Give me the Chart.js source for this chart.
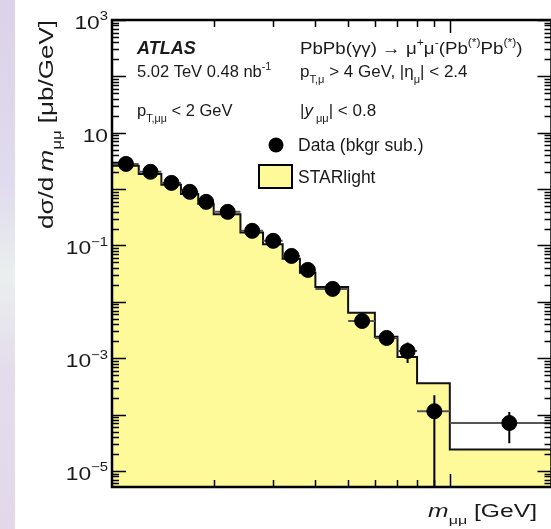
<!DOCTYPE html>
<html lang="en">
<head>
<meta charset="UTF-8">
<title>ATLAS PbPb dimuon mass</title>
<script src="https://cdn.jsdelivr.net/npm/chart.js"></script>
<style>
  html, body { margin: 0; padding: 0; background: #fff; overflow: hidden; }
  #strip { position: absolute; left: 0; top: 0; width: 15px; height: 529px;
    background: linear-gradient(to bottom, #dcd2e9 0%, #e0dbee 35%, #eaefee 52%, #e4dcec 70%, #e2d8ea 100%); }
  #wrap { position: absolute; left: 0; top: 0; }
</style>
</head>
<body>
<div id="strip"></div>
<div id="wrap"><canvas id="grafico" width="560" height="529"></canvas></div>
<script>
// m_mumu bin edges [GeV]
const binEdges = [10, 12, 14, 16, 18, 20, 24, 28, 32, 36, 40, 50, 60, 70, 80, 100, 200];
// STARlight prediction, one value per bin [mub/GeV]
const starlight = [2.6, 1.85, 1.2, 0.82, 0.55, 0.36, 0.17, 0.105, 0.058, 0.033, 0.0184, 0.0064, 0.0024, 0.00105, 0.00036, 0.000024];
// data (bkgr sub.)
const dataMass = [11, 13, 15, 17, 19, 22, 26, 30, 34, 38, 45, 55, 65, 75, 90, 150];
const dataXsec = [2.8, 2.03, 1.29, 0.895, 0.594, 0.395, 0.182, 0.121, 0.0653, 0.0369, 0.0170, 0.00458, 0.00229, 0.00134, 0.000115, 0.000071];
const dataLow  = [2.7, 1.96, 1.24, 0.86, 0.57, 0.38, 0.174, 0.115, 0.062, 0.0345, 0.0158, 0.0040, 0.0018, 0.00082, 1e-7, 0.000031];
const dataHigh = [2.9, 2.1, 1.34, 0.93, 0.62, 0.41, 0.19, 0.127, 0.069, 0.039, 0.0182, 0.0052, 0.0028, 0.0019, 0.00022, 0.000111];
// labelled y decades (10^n)
const yLabelExps = [3, 1, -1, -3, -5];

const FONT = '"Liberation Sans", Arial, sans-serif';
const INK = '#1a1a1a';

// draws text made of pieces: '' normal, 'i' italic, 'bi' bold italic, '^' superscript, '_' subscript
// sx stretches the text along its direction
function rich(ctx, parts, x, y, size, align, sx) {
  sx = sx || 1;
  const font = (k, s) => (k === 'i' ? 'italic ' : k === 'bi' ? 'italic bold ' : '') + s + 'px ' + FONT;
  const items = parts.map(([t, k]) => {
    const s = (k === '^' || k === '_') ? size * 0.65 : size;
    ctx.font = font(k, s);
    return { t, k, s, w: ctx.measureText(t).width };
  });
  const total = items.reduce((a, b) => a + b.w, 0) * sx;
  let start = align === 'right' ? x - total : align === 'center' ? x - total / 2 : x;
  ctx.save();
  ctx.translate(start, y);
  ctx.scale(sx, 1);
  ctx.textAlign = 'left';
  ctx.textBaseline = 'alphabetic';
  let cx = 0;
  items.forEach(it => {
    ctx.font = font(it.k, it.s);
    const dy = it.k === '^' ? -size * 0.45 : it.k === '_' ? size * 0.38 : 0;
    ctx.fillText(it.t, cx, dy);
    cx += it.w;
  });
  ctx.restore();
}

const atlasPlugin = {
  id: 'atlas',
  beforeDatasetDraw(chart, args) {
    if (args.index !== 0) return;
    const { ctx, chartArea: a, scales: { x, y } } = chart;
    ctx.save();
    ctx.beginPath();
    ctx.rect(a.left, a.top, a.right - a.left, a.bottom - a.top);
    ctx.clip();
    ctx.lineWidth = 2;
    dataMass.forEach((m, i) => {
      const py = y.getPixelForValue(dataXsec[i]);
      ctx.strokeStyle = '#555';
      ctx.beginPath();
      ctx.moveTo(x.getPixelForValue(binEdges[i]), py);
      ctx.lineTo(x.getPixelForValue(binEdges[i + 1]), py);
      ctx.stroke();
      const px = x.getPixelForValue(m);
      ctx.strokeStyle = '#000';
      ctx.beginPath();
      ctx.moveTo(px, y.getPixelForValue(dataLow[i]));
      ctx.lineTo(px, y.getPixelForValue(dataHigh[i]));
      ctx.stroke();
    });
    ctx.restore();
  },
  afterDraw(chart) {
    const { ctx, chartArea: a, scales: { x, y } } = chart;
    ctx.save();
    ctx.strokeStyle = '#000';
    ctx.lineWidth = 2.5;
    ctx.strokeRect(a.left, a.top, a.right - a.left, a.bottom - a.top);

    // y ticks, both sides, pointing inward
    ctx.lineWidth = 1.5;
    for (let e = -6; e <= 3; e++) {
      for (let k = 1; k <= 9; k++) {
        const v = k * Math.pow(10, e);
        if (v < y.min || v > y.max) continue;
        const py = Math.round(y.getPixelForValue(v)) + 0.5;
        const len = k === 1 ? 14 : 7;
        ctx.beginPath();
        ctx.moveTo(a.left, py); ctx.lineTo(a.left + len, py);
        ctx.moveTo(a.right, py); ctx.lineTo(a.right - len, py);
        ctx.stroke();
      }
    }
    // x ticks, top and bottom
    for (let e = 1; e <= 2; e++) {
      for (let k = 1; k <= 9; k++) {
        const v = k * Math.pow(10, e);
        if (v <= x.min || v >= x.max) continue;
        const px = Math.round(x.getPixelForValue(v)) + 0.5;
        const len = k === 1 ? 13 : 7;
        ctx.beginPath();
        ctx.moveTo(px, a.bottom); ctx.lineTo(px, a.bottom - len);
        ctx.moveTo(px, a.top); ctx.lineTo(px, a.top + len);
        ctx.stroke();
      }
    }

    ctx.fillStyle = INK;
    // y tick labels
    yLabelExps.forEach(n => {
      const py = y.getPixelForValue(Math.pow(10, n));
      const parts = n === 1 ? [['10', '']] : [['10', ''], [n < 0 ? '\u2212' + (-n) : String(n), '^']];
      rich(ctx, parts, 108, py + 9, 19, 'right', 1.2);
    });

    // axis titles
    rich(ctx, [['m', 'i'], ['\u03bc\u03bc', '_'], [' [GeV]', '']], 537, 517, 18, 'right', 1.37);
    ctx.save();
    ctx.translate(53, 20);
    ctx.rotate(-Math.PI / 2);
    rich(ctx, [['d\u03c3/d\u2009', ''], ['m', 'i'], ['\u03bc\u03bc', '_'], [' [\u03bcb/GeV]', '']], 0, 0, 20, 'right', 1.3);
    ctx.restore();

    // labels
    rich(ctx, [['ATLAS', 'bi']], 137, 54, 18);
    rich(ctx, [['5.02 TeV 0.48 nb', ''], ['-1', '^']], 137, 77, 16.5);
    rich(ctx, [['p', ''], ['T,\u03bc\u03bc', '_'], [' < 2 GeV', '']], 137, 116, 16.5);
    rich(ctx, [['PbPb(\u03b3\u03b3) \u2192 \u03bc', ''], ['+', '^'], ['\u03bc', ''], ['-', '^'], ['(Pb', ''], ['(*)', '^'], ['Pb', ''], ['(*)', '^'], [')', '']], 300, 54, 17, 'left', 1.1);
    rich(ctx, [['p', ''], ['T,\u03bc', '_'], [' > 4 GeV, |\u03b7', ''], ['\u03bc', '_'], ['| < 2.4', '']], 300, 77, 17);
    rich(ctx, [['|', ''], ['y', 'i'], [' \u03bc\u03bc', '_'], ['| < 0.8', '']], 300, 116, 17);

    // legend
    ctx.fillStyle = '#000';
    ctx.beginPath();
    ctx.arc(276, 145, 7.5, 0, Math.PI * 2);
    ctx.fill();
    ctx.fillStyle = '#fffa99';
    ctx.fillRect(259, 165, 33, 23);
    ctx.lineWidth = 2;
    ctx.strokeRect(259, 165, 33, 23);
    ctx.fillStyle = INK;
    rich(ctx, [['Data (bkgr sub.)', '']], 298, 151, 17.5);
    rich(ctx, [['STARlight', '']], 298, 183, 17.5);
    ctx.restore();
  }
};

const histo = binEdges.map((e, i) => ({ x: e, y: starlight[Math.min(i, starlight.length - 1)] }));

const ctx = document.getElementById('grafico').getContext('2d');
const grafico = new Chart(ctx, {
  type: 'scatter',
  data: {
    datasets: [
      {
        label: 'Data (bkgr sub.)',
        data: dataMass.map((m, i) => ({ x: m, y: dataXsec[i] })),
        pointRadius: 7.5,
        pointHoverRadius: 7.5,
        backgroundColor: '#000',
        borderColor: '#000',
        showLine: false
      },
      {
        type: 'line',
        label: 'STARlight',
        data: histo,
        stepped: 'before',
        fill: 'start',
        backgroundColor: '#fffa99',
        borderColor: '#111',
        borderWidth: 2,
        pointRadius: 0
      }
    ]
  },
  options: {
    responsive: false,
    devicePixelRatio: 1,
    animation: false,
    layout: { padding: { left: 112, right: 6, top: 20, bottom: 42 } },
    scales: {
      x: { type: 'logarithmic', min: 10, max: 200, display: false },
      y: { type: 'logarithmic', min: 5.2e-6, max: 1000, display: false }
    },
    plugins: { legend: { display: false }, tooltip: { enabled: false } }
  },
  plugins: [atlasPlugin]
});
</script>
</body>
</html>
